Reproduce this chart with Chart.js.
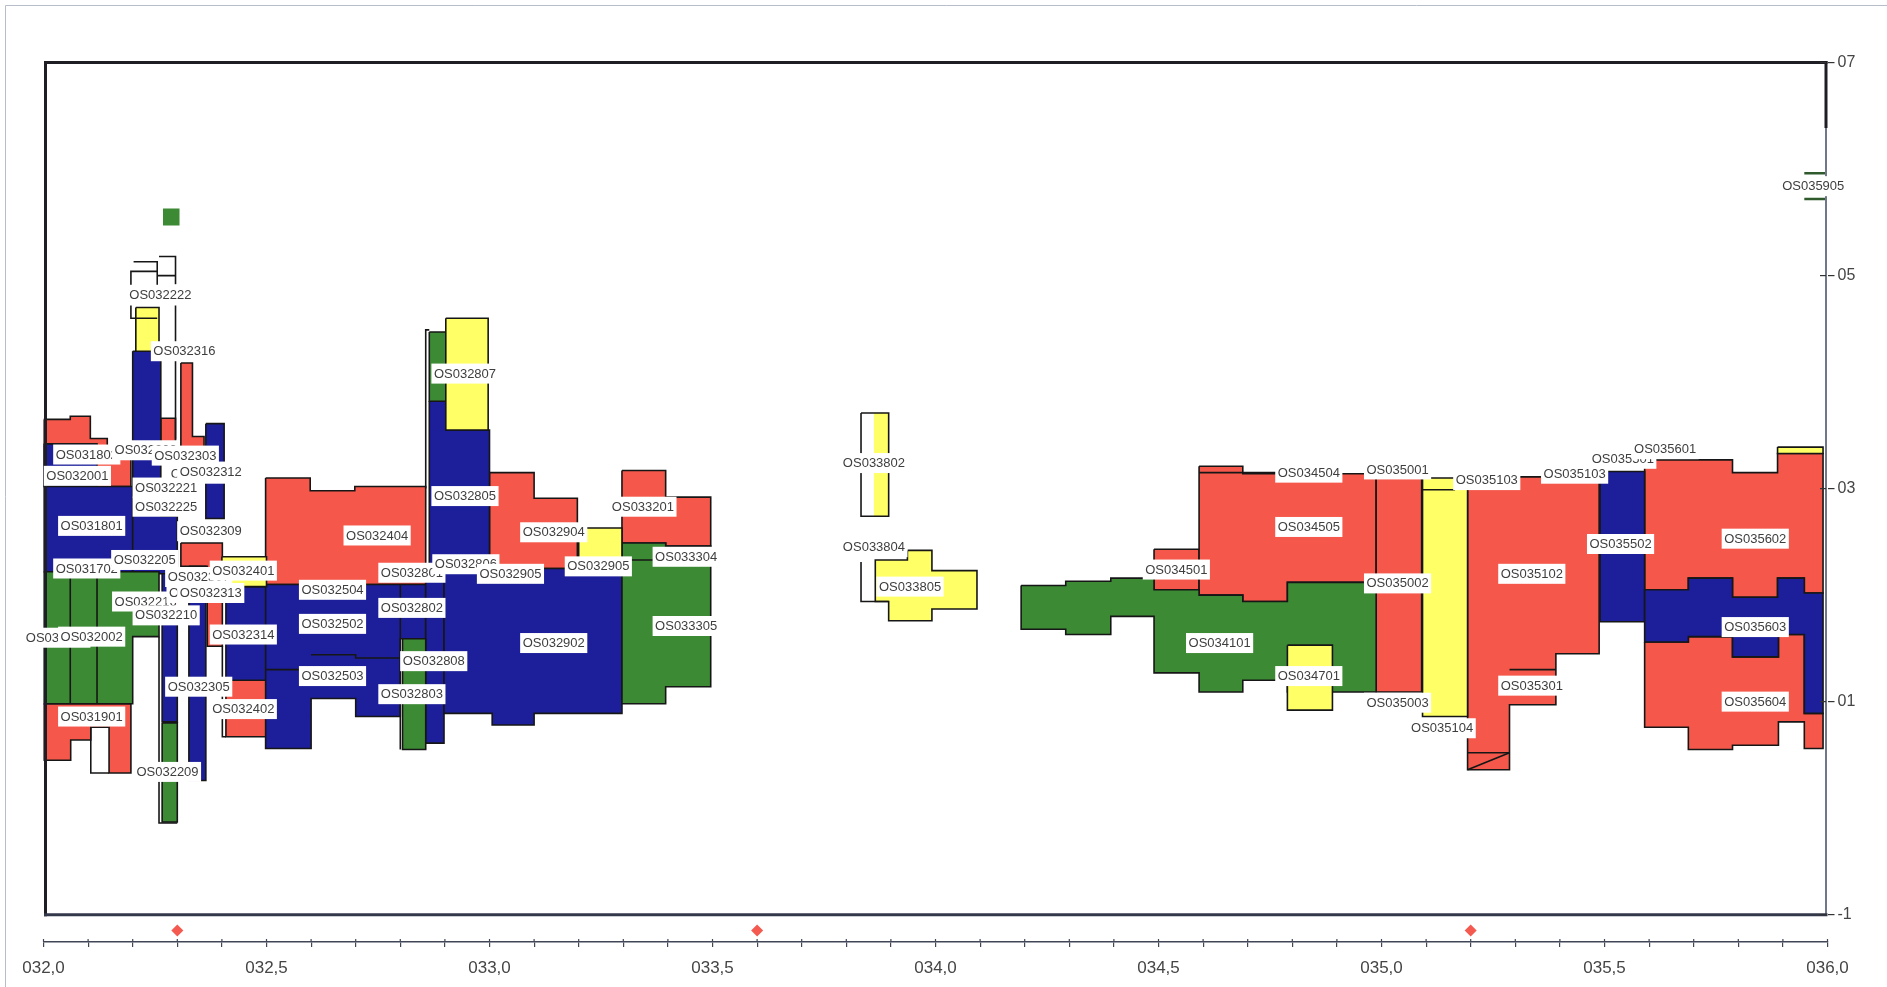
<!DOCTYPE html>
<html>
<head>
<meta charset="utf-8">
<script src="https://cdn.jsdelivr.net/npm/chart.js@4.4.1/dist/chart.umd.min.js"></script>
<style>
  html, body { margin: 0; padding: 0; background: #ffffff; }
  #wrap { width: 1887px; height: 987px; position: relative; }
</style>
</head>
<body>
<div id="wrap"><canvas id="c"></canvas></div>
<script>
// ---- axis labels --------------------------------------------------------
const rulerLabels = ['032,0', '032,5', '033,0', '033,5', '034,0', '034,5', '035,0', '035,5', '036,0'];
const levelTicks  = [-1, 1, 3, 5, 7];
const levelLabels = ['-1', '01', '03', '05', '07'];
const markerKm    = [32.3, 33.6, 35.2];

// ---- unit outlines: flat lists of (km, level) vertices -----------------
const redUnits = [
  [32.0,3.65, 32.06,3.65, 32.06,3.68, 32.105,3.68, 32.105,3.47, 32.143,3.47, 32.143,3.3, 32.196,3.3, 32.196,3.02, 32.0,3.02],
  [32.0,0.98, 32.196,0.98, 32.196,0.33, 32.147,0.33, 32.147,0.76, 32.106,0.76, 32.106,0.64, 32.061,0.64, 32.061,0.45, 32.0,0.45],
  [32.263,3.66, 32.296,3.66, 32.296,3.43, 32.263,3.43],
  [32.308,4.18, 32.334,4.18, 32.334,3.49, 32.36,3.49, 32.36,3.28, 32.308,3.28],
  [32.308,2.49, 32.401,2.49, 32.401,1.52, 32.367,1.52, 32.367,2.27, 32.308,2.27],
  [32.409,1.2, 32.5,1.2, 32.5,0.67, 32.409,0.67],
  [32.498,3.1, 32.598,3.1, 32.598,2.98, 32.698,2.98, 32.698,3.02, 32.857,3.02, 32.857,2.1, 32.498,2.1],
  [33.0,3.15, 33.1,3.15, 33.1,2.91, 33.197,2.91, 33.197,2.25, 33.0,2.25],
  [33.297,3.17, 33.395,3.17, 33.395,2.92, 33.496,2.92, 33.496,2.46, 33.395,2.46, 33.395,2.49, 33.297,2.49],
  [34.49,2.43, 34.591,2.43, 34.591,2.05, 34.49,2.05],
  [34.591,3.21, 34.689,3.21, 34.689,3.14, 34.988,3.14, 34.988,2.12, 34.789,2.12, 34.789,1.94, 34.689,1.94, 34.689,2.0, 34.591,2.0],
  [34.988,3.15, 35.09,3.15, 35.09,1.09, 34.988,1.09],
  [35.193,3.06, 35.3,3.06, 35.3,3.11, 35.36,3.11, 35.36,3.06, 35.488,3.06, 35.488,1.45, 35.391,1.45, 35.391,0.97, 35.287,0.97, 35.287,0.36, 35.193,0.36],
  [35.59,3.27, 35.787,3.27, 35.787,3.15, 35.888,3.15, 35.888,3.33, 35.99,3.33, 35.99,2.02, 35.948,2.02, 35.948,2.16, 35.888,2.16, 35.888,1.98, 35.787,1.98, 35.787,2.16, 35.688,2.16, 35.688,2.05, 35.59,2.05],
  [35.59,1.56, 35.688,1.56, 35.688,1.61, 35.787,1.61, 35.787,1.42, 35.89,1.42, 35.89,1.63, 35.948,1.63, 35.948,0.89, 35.99,0.89, 35.99,0.56, 35.948,0.56, 35.948,0.81, 35.89,0.81, 35.89,0.59, 35.787,0.59, 35.787,0.55, 35.688,0.55, 35.688,0.76, 35.59,0.76]
];

const blueUnits = [
  [32.0,3.42, 32.12,3.42, 32.12,3.02, 32.0,3.02],
  [32.0,3.02, 32.2,3.02, 32.2,2.22, 32.0,2.22],
  [32.2,4.29, 32.263,4.29, 32.263,2.74, 32.3,2.74, 32.3,2.2, 32.2,2.2],
  [32.364,3.61, 32.405,3.61, 32.405,2.72, 32.364,2.72],
  [32.326,2.27, 32.364,2.27, 32.364,0.26, 32.326,0.26],
  [32.266,2.2, 32.3,2.2, 32.3,0.81, 32.266,0.81],
  [32.409,2.08, 32.5,2.08, 32.5,1.2, 32.409,1.2],
  [32.498,2.1, 32.857,2.1, 32.857,1.59, 32.8,1.59, 32.8,0.86, 32.7,0.86, 32.7,1.03, 32.6,1.03, 32.6,0.56, 32.498,0.56],
  [32.865,3.82, 32.902,3.82, 32.902,3.55, 33.0,3.55, 33.0,2.25, 32.865,2.25],
  [32.857,2.25, 32.898,2.25, 32.898,0.61, 32.857,0.61],
  [32.898,2.25, 33.297,2.25, 33.297,0.89, 33.1,0.89, 33.1,0.78, 33.006,0.78, 33.006,0.89, 32.898,0.89],
  [35.49,3.16, 35.59,3.16, 35.59,1.75, 35.49,1.75],
  [35.59,2.05, 35.688,2.05, 35.688,2.16, 35.787,2.16, 35.787,1.98, 35.888,1.98, 35.888,2.16, 35.948,2.16, 35.948,2.02, 35.99,2.02, 35.99,0.89, 35.948,0.89, 35.948,1.63, 35.89,1.63, 35.89,1.42, 35.787,1.42, 35.787,1.61, 35.688,1.61, 35.688,1.56, 35.59,1.56]
];

const greenUnits = [
  [32.0,2.22, 32.259,2.22, 32.259,1.61, 32.2,1.61, 32.2,0.98, 32.0,0.98],
  [32.266,0.8, 32.3,0.8, 32.3,-0.13, 32.266,-0.13],
  [32.805,1.59, 32.857,1.59, 32.857,0.55, 32.805,0.55],
  [32.865,4.47, 32.902,4.47, 32.902,3.82, 32.865,3.82],
  [33.297,2.49, 33.395,2.49, 33.395,2.46, 33.496,2.46, 33.496,1.14, 33.395,1.14, 33.395,0.98, 33.297,0.98],
  [34.192,2.09, 34.292,2.09, 34.292,2.13, 34.393,2.13, 34.393,2.16, 34.49,2.16, 34.49,2.05, 34.591,2.05, 34.591,2.0, 34.689,2.0, 34.689,1.94, 34.789,1.94, 34.789,2.12, 34.988,2.12, 34.988,1.09, 34.789,1.09, 34.789,1.2, 34.689,1.2, 34.689,1.09, 34.591,1.09, 34.591,1.27, 34.49,1.27, 34.49,1.8, 34.393,1.8, 34.393,1.63, 34.292,1.63, 34.292,1.68, 34.192,1.68]
];

const yellowUnits = [
  [32.207,4.7, 32.259,4.7, 32.259,4.29, 32.207,4.29],
  [32.4,2.36, 32.5,2.36, 32.5,2.08, 32.4,2.08],
  [32.902,4.6, 32.997,4.6, 32.997,3.55, 32.902,3.55],
  [33.2,2.63, 33.297,2.63, 33.297,2.25, 33.2,2.25],
  [33.937,2.42, 33.992,2.42, 33.992,2.23, 34.093,2.23, 34.093,1.87, 33.992,1.87, 33.992,1.76, 33.895,1.76, 33.895,1.94, 33.865,1.94, 33.865,2.33, 33.937,2.33],
  [34.789,1.53, 34.89,1.53, 34.89,0.92, 34.789,0.92],
  [35.092,3.1, 35.193,3.1, 35.193,0.86, 35.092,0.86],
  [35.888,3.39, 35.99,3.39, 35.99,3.33, 35.888,3.33]
];

// patches drawn without an edge
const plainGreen  = [[32.268,5.63, 32.305,5.63, 32.305,5.47, 32.268,5.47]];
const plainYellow = [[33.862,3.71, 33.895,3.71, 33.895,2.74, 33.862,2.74]];

// unfilled boundaries
const boundaryLines = [
  [32.196,4.9, 32.196,5.04, 32.255,5.04],
  [32.202,5.13, 32.255,5.13, 32.255,4.9],
  [32.259,5.18, 32.296,5.18, 32.296,4.92],
  [32.255,5.0, 32.296,5.0],
  [32.196,4.72, 32.196,4.6, 32.255,4.6],
  [32.296,4.72, 32.296,3.46],
  [32.401,1.52, 32.401,0.67, 32.409,0.67],
  [32.259,1.61, 32.259,-0.14, 32.3,-0.14],
  [32.106,0.76, 32.106,0.33, 32.147,0.33],
  [32.06,2.22, 32.06,0.98],
  [32.12,2.22, 32.12,0.98],
  [32.498,1.3, 32.6,1.3],
  [32.6,1.44, 32.7,1.44, 32.7,1.41, 32.8,1.41],
  [32.8,2.1, 32.8,0.55],
  [32.857,3.0, 32.857,4.49, 32.865,4.49],
  [33.833,3.71, 33.895,3.71, 33.895,2.74, 33.833,2.74, 33.833,3.71],
  [33.833,2.31, 33.833,1.94, 33.895,1.94],
  [33.297,2.33, 33.37,2.33],
  [34.591,3.15, 34.8,3.15],
  [35.092,2.99, 35.165,2.99],
  [35.287,1.3, 35.391,1.3],
  [35.193,0.52, 35.287,0.52],
  [35.193,0.36, 35.287,0.52]
];
const endLines = [
  [35.948,5.96, 35.998,5.96],
  [35.948,5.72, 35.998,5.72]
];

// ---- unit tags ----------------------------------------------------------
const unitNames = ['OS032222','OS032316','OS031802','OS032203','OS032303','OS032001','OS032311','OS032312',
  'OS032221','OS032225','OS031801','OS032309','OS031702','OS032205','OS032307','OS032401','OS032216',
  'OS032306','OS032313','OS032210','OS032314','OS031701','OS032002','OS032305','OS032402','OS031901',
  'OS032209','OS032404','OS032504','OS032502','OS032503','OS032807','OS032805','OS032801','OS032806',
  'OS032905','OS032802','OS032808','OS032803','OS032904','OS032902','OS032905','OS033201','OS033304',
  'OS033305','OS033802','OS033804','OS033805','OS034501','OS034504','OS034505','OS034101','OS034701',
  'OS035001','OS035002','OS035003','OS035104','OS035103','OS035103','OS035501','OS035601','OS035502',
  'OS035102','OS035301','OS035602','OS035603','OS035604','OS035905'];
const unitKm = [32.262,32.316,32.097,32.229,32.318,32.076,32.354,32.375,
  32.275,32.275,32.108,32.375,32.097,32.227,32.348,32.448,32.229,
  32.351,32.375,32.275,32.448,32.03,32.108,32.348,32.448,32.108,
  32.278,32.748,32.648,32.648,32.648,32.945,32.945,32.826,32.947,
  33.047,32.826,32.875,32.826,33.144,33.144,33.244,33.344,33.441,
  33.441,33.862,33.862,33.943,34.54,34.837,34.837,34.637,34.837,
  35.036,35.036,35.036,35.136,35.236,35.433,35.541,35.636,35.536,
  35.337,35.337,35.838,35.838,35.838,35.968];
const unitLevel = [4.82,4.29,3.32,3.36,3.31,3.12,3.14,3.16,
  3.01,2.83,2.65,2.60,2.25,2.33,2.17,2.23,1.94,
  2.02,2.02,1.81,1.63,1.6,1.61,1.14,0.93,0.86,
  0.34,2.56,2.05,1.73,1.24,4.08,2.93,2.21,2.29,
  2.2,1.88,1.38,1.07,2.59,1.55,2.27,2.83,2.36,
  1.71,3.24,2.45,2.08,2.24,3.15,2.64,1.55,1.24,
  3.18,2.11,0.99,0.75,3.08,3.14,3.28,3.37,2.48,
  2.2,1.15,2.53,1.7,1.0,5.84];

// ---- styling ------------------------------------------------------------
const RED = '#f5584b', BLUE = '#1c1e9a', GREEN = '#3d8a35', YELLOW = '#ffff66';
const EDGE = '#161616';
const markerRow = -1.15;

function shape(flat, fillColour, edgeColour, edgeWidth) {
  const pts = [];
  for (let i = 0; i < flat.length; i += 2) pts.push({ x: flat[i], y: flat[i + 1] });
  if (fillColour) pts.push({ x: flat[0], y: flat[1] });
  return {
    type: 'line',
    data: pts,
    fill: fillColour ? 'shape' : false,
    backgroundColor: fillColour || 'rgba(0,0,0,0)',
    borderColor: edgeColour || 'rgba(0,0,0,0)',
    borderWidth: edgeWidth || 1,
    pointRadius: 0,
    pointHoverRadius: 0,
    pointHitRadius: 0,
    tension: 0,
    borderJoinStyle: 'miter',
    spanGaps: true
  };
}

const datasets = [];
redUnits.forEach(p => datasets.push(shape(p, RED, EDGE, 1.6)));
blueUnits.forEach(p => datasets.push(shape(p, BLUE, EDGE, 1.6)));
greenUnits.forEach(p => datasets.push(shape(p, GREEN, EDGE, 1.6)));
yellowUnits.forEach(p => datasets.push(shape(p, YELLOW, EDGE, 1.6)));
plainGreen.forEach(p => datasets.push(shape(p, GREEN, null, 1)));
plainYellow.forEach(p => datasets.push(shape(p, YELLOW, null, 1)));
boundaryLines.forEach(p => datasets.push(shape(p, null, EDGE, 1.6)));
endLines.forEach(p => datasets.push(shape(p, null, '#2f5a2c', 2.5)));
datasets.push({
  type: 'line',
  data: markerKm.map(k => ({ x: k, y: markerRow })),
  showLine: false,
  pointStyle: 'rectRot',
  pointRadius: 6,
  pointBackgroundColor: '#f45a50',
  pointBorderColor: '#f45a50',
  pointBorderWidth: 0
});
// first listed is painted first
datasets.forEach((d, i) => { d.order = datasets.length - i; });

// frame around the section, crossing ruler ticks and the unit tags
const frameAndTags = {
  id: 'frameAndTags',
  afterDatasetsDraw(chart) {
    const { ctx, chartArea: a, scales: { x, y } } = chart;
    const yTop = y.getPixelForValue(7), yBot = y.getPixelForValue(-1);
    const xl = a.left + 2, xr = a.right - 1.5;
    const seg = (x0, y0, x1, y1) => { ctx.beginPath(); ctx.moveTo(x0, y0); ctx.lineTo(x1, y1); ctx.stroke(); };
    ctx.save();
    ctx.strokeStyle = '#b7bdc9'; ctx.lineWidth = 1;
    ctx.beginPath(); ctx.moveTo(5.5, 987); ctx.lineTo(5.5, 5.5); ctx.lineTo(1887, 5.5); ctx.stroke();

    ctx.lineCap = 'square';
    ctx.strokeStyle = '#6f7788'; ctx.lineWidth = 2;
    seg(xr, yTop, xr, yBot);
    ctx.strokeStyle = '#1e1e24'; ctx.lineWidth = 3;
    seg(xl, yTop, xr, yTop);
    seg(xl, yTop, xl, yBot);
    seg(xr, yTop, xr, y.getPixelForValue(6.4));
    ctx.strokeStyle = '#33374a';
    seg(xl, yBot, xr, yBot);
    ctx.lineCap = 'butt';
    ctx.lineWidth = 1.2; ctx.strokeStyle = '#333';
    levelTicks.forEach(v => { const py = y.getPixelForValue(v); seg(xr - 6, py, xr, py); });
    // upper half of the ruler ticks
    ctx.strokeStyle = '#414657';
    x.ticks.forEach(t => { const px = x.getPixelForValue(t.value); seg(px, a.bottom - 3, px, a.bottom); });

    ctx.font = '13px "Liberation Sans", Arial, sans-serif';
    ctx.textAlign = 'center';
    ctx.textBaseline = 'middle';
    unitNames.forEach((n, i) => {
      const px = x.getPixelForValue(unitKm[i]);
      const py = y.getPixelForValue(unitLevel[i]);
      const w = ctx.measureText(n).width + 5;
      ctx.fillStyle = '#ffffff';
      ctx.fillRect(px - w / 2, py - 10, w, 20);
      ctx.fillStyle = '#3e3e3e';
      ctx.fillText(n, px, py + 0.5);
    });
    ctx.restore();
  }
};

new Chart(document.getElementById('c'), {
  type: 'line',
  data: { datasets },
  plugins: [frameAndTags],
  options: {
    responsive: true,
    maintainAspectRatio: false,
    animation: false,
    events: [],
    layout: { padding: { left: 43.5, top: 62.6, right: 0, bottom: 0 } },
    plugins: { legend: { display: false }, tooltip: { enabled: false } },
    scales: {
      x: {
        type: 'linear',
        position: 'bottom',
        min: 32,
        max: 36,
        border: { display: true, color: '#414657', width: 1.5 },
        grid: { drawOnChartArea: false, drawTicks: true, tickLength: 5, color: '#414657', lineWidth: 1.2 },
        ticks: {
          stepSize: 0.1,
          maxTicksLimit: 100,
          autoSkip: false,
          maxRotation: 0,
          minRotation: 0,
          padding: 11,
          color: '#454545',
          font: { family: '"Liberation Sans", Arial, sans-serif', size: 17 },
          callback: (v) => {
            const k = Math.round((v - 32) * 2);
            return Math.abs((v - 32) * 2 - k) < 1e-6 ? rulerLabels[k] : '';
          }
        },
        afterFit: (s) => { s.height = 45; }
      },
      y: {
        type: 'linear',
        position: 'right',
        min: -1.257,
        max: 7,
        border: { display: false },
        grid: { drawOnChartArea: false, drawTicks: true, tickLength: 7, color: '#333', lineWidth: 1.2 },
        afterBuildTicks: (s) => { s.ticks = levelTicks.map(v => ({ value: v })); },
        ticks: {
          padding: 3,
          color: '#454545',
          font: { family: '"Liberation Sans", Arial, sans-serif', size: 16 },
          callback: (v, i) => levelLabels[i]
        },
        afterFit: (s) => { s.width = 59.5; }
      }
    }
  }
});
</script>
</body>
</html>
